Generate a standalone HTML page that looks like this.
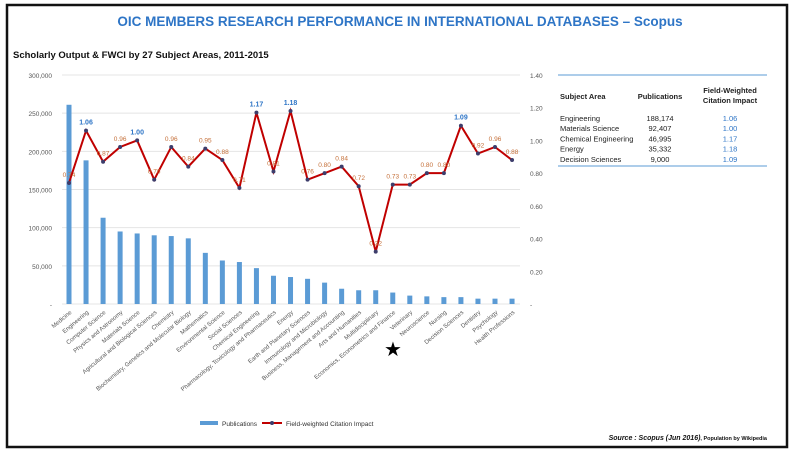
<!DOCTYPE html>
<html><head><meta charset="utf-8"><style>
body{margin:0;background:#fff;}
svg{display:block;font-family:"Liberation Sans",sans-serif;}
</style></head><body>
<svg width="797" height="456" viewBox="0 0 797 456">
<rect x="7" y="5" width="780" height="442" fill="#fff" stroke="#111" stroke-width="2.5"/>
<text x="400" y="26" text-anchor="middle" font-size="13.5" font-weight="bold" fill="#2e75c6">OIC MEMBERS RESEARCH PERFORMANCE IN INTERNATIONAL DATABASES – Scopus</text>
<text x="13" y="58" font-size="9.5" font-weight="bold" fill="#111">Scholarly Output  &amp; FWCI by 27 Subject Areas, 2011-2015</text>
<g id="grid"></g><g id="bars"></g><g id="line"></g><g id="labels"></g>
<g font-size="7.5" fill="#222">
<line x1="558" y1="75" x2="767" y2="75" stroke="#5b9bd5" stroke-width="1"/>
<text x="560" y="99" font-weight="bold">Subject Area</text>
<text x="660" y="99" text-anchor="middle" font-weight="bold">Publications</text>
<text x="730" y="93" text-anchor="middle" font-weight="bold">Field-Weighted</text>
<text x="730" y="103" text-anchor="middle" font-weight="bold">Citation Impact</text>
<g id="rows"></g>
<line x1="558" y1="166" x2="767" y2="166" stroke="#5b9bd5" stroke-width="1"/>
</g>
<text x="393" y="356" text-anchor="middle" font-size="20" fill="#000">★</text>
<g font-size="6.5" fill="#333">
<rect x="200" y="421" width="18" height="4" fill="#5b9bd5"/>
<text x="222" y="426">Publications</text>
<line x1="262" y1="423" x2="282" y2="423" stroke="#c00000" stroke-width="2"/>
<circle cx="272" cy="423" r="2" fill="#3d3d6b"/>
<text x="286" y="426">Field-weighted Citation Impact</text>
</g>
<text x="767" y="440" text-anchor="end" font-size="7" fill="#111"><tspan font-style="italic" font-weight="bold">Source : Scopus (Jun 2016)</tspan><tspan font-size="5.5" font-weight="bold">, Population by Wikipedia</tspan></text>
</svg>
<script>
const categories=["Medicine","Engineering","Computer Science","Physics and Astronomy","Materials Science","Agricultural and Biological Sciences","Chemistry","Biochemistry, Genetics and Molecular Biology","Mathematics","Environmental Science","Social Sciences","Chemical Engineering","Pharmacology, Toxicology and Pharmaceutics","Energy","Earth and Planetary Sciences","Immunology and Microbiology","Business, Management and Accounting","Arts and Humanities","Multidisciplinary","Economics, Econometrics and Finance","Veterinary","Neuroscience","Nursing","Decision Sciences","Dentistry","Psychology","Health Professions"];
const publications=[261000,188174,113000,95000,92407,90000,89000,86000,67000,57000,55000,46995,37000,35332,33000,28000,20000,18000,18000,15000,11000,10000,9000,9000,7000,7000,7000];
const fwci=[0.74,1.06,0.87,0.96,1.00,0.76,0.96,0.84,0.95,0.88,0.71,1.17,0.81,1.18,0.76,0.80,0.84,0.72,0.32,0.73,0.73,0.80,0.80,1.09,0.92,0.96,0.88];
const leftTicks=[0,50000,100000,150000,200000,250000,300000];
const rightTicks=[0,0.2,0.4,0.6,0.8,1.0,1.2,1.4];
const tableAreas=["Engineering","Materials Science","Chemical Engineering","Energy","Decision Sciences"];
const tablePubs=["188,174","92,407","46,995","35,332","9,000"];
const tableFwci=["1.06","1.00","1.17","1.18","1.09"];
const NS="http://www.w3.org/2000/svg";
const Y0=304,YT=75,X0=69,DX=17.04;
const yL=v=>Y0-(v/300000)*(Y0-YT);
const yR=v=>Y0-(v/1.4)*(Y0-YT);
const xC=i=>X0+i*DX;
function mk(t,a,p,txt){const e=document.createElementNS(NS,t);for(const k in a)e.setAttribute(k,a[k]);if(txt!==undefined)e.textContent=txt;p.appendChild(e);return e;}
const grid=document.getElementById('grid');
leftTicks.forEach(v=>{
 const l=mk('line',{x1:62,x2:520,y1:yL(v),y2:yL(v),stroke:'#e4e4e4','stroke-width':1},grid);
 
 
 const t=mk('text',{x:52,y:yL(v)+3,'text-anchor':'end','font-size':6.5,fill:'#555'},grid,v===0?'-':v.toLocaleString('en-US'));
 
 
});
rightTicks.forEach(v=>{
 const t=mk('text',{x:530,y:yR(v)+3,'font-size':6.5,fill:'#555'},grid,v===0?'-':v.toFixed(2));
 
 
});
const bars=document.getElementById('bars');
publications.forEach((v,i)=>{
 const r=mk('rect',{x:xC(i)-2.5,y:yL(v),width:5,height:Y0-yL(v),fill:'#5b9bd5'},bars);
 
 
 const t=mk('text',{x:0,y:0,'text-anchor':'end','font-size':6,fill:'#555',transform:`translate(${xC(i)+3},${Y0+9}) rotate(-40)`},bars,categories[i]);
 
 
});
const line=document.getElementById('line');
const pts=fwci.map((v,i)=>xC(i)+','+yR(v)).join(' ');
const pl=mk('polyline',{points:pts,fill:'none',stroke:'#c00000','stroke-width':2},line);


const lab=document.getElementById('labels');
fwci.forEach((v,i)=>{
 const c=mk('circle',{cx:xC(i),cy:yR(v),r:2,fill:'#3d3d6b'},line);
 
 
 const hi=v>=1;
 const t=mk('text',{x:xC(i),y:yR(v)-6,'text-anchor':'middle','font-size':hi?7:6.5,'font-weight':hi?'bold':'normal',fill:hi?'#2e75c6':'#c5703a'},lab,v.toFixed(2));
 
 
});
const rows=document.getElementById('rows');
tableAreas.forEach((a,i)=>{
 const y=121+i*10.2;
 const t1=mk('text',{x:560,y:y},rows,a);
 
 
 const t2=mk('text',{x:660,y:y,'text-anchor':'middle'},rows,tablePubs[i]);
 
 
 const t3=mk('text',{x:730,y:y,'text-anchor':'middle',fill:'#2e75c6'},rows,tableFwci[i]);
 
 
});
</script>
</body></html>
